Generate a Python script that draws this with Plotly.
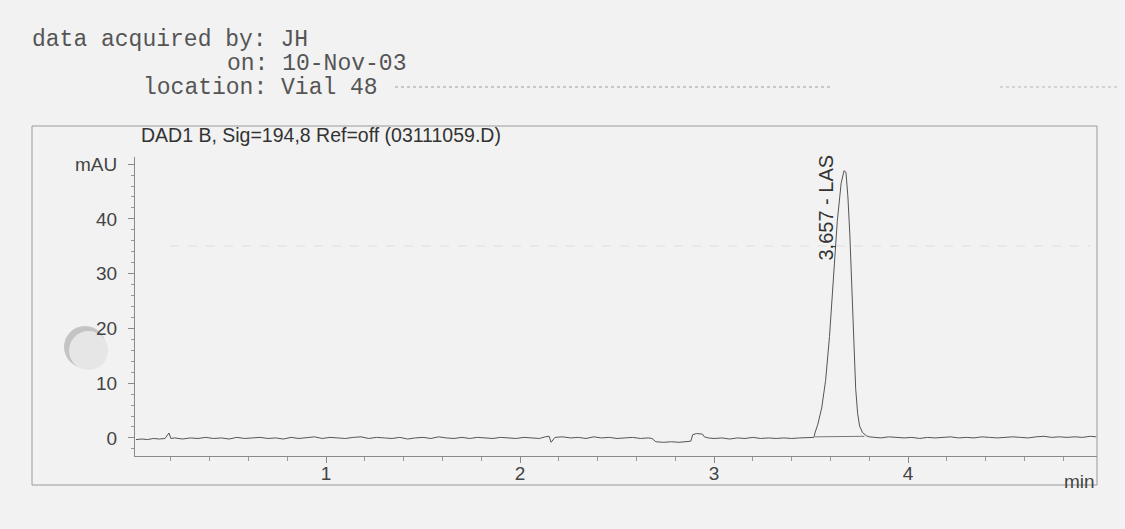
import plotly.graph_objects as go

# ---------------- data ----------------
base_time = [0.02, 0.05, 0.08, 0.11, 0.14, 0.17, 0.19, 0.20, 0.22, 0.26, 0.30, 0.34, 0.38, 0.42,
             0.46, 0.50, 0.54, 0.58, 0.62, 0.66, 0.70, 0.74, 0.78, 0.82, 0.86, 0.90, 0.94, 0.98,
             1.02, 1.06, 1.10, 1.14, 1.18, 1.22, 1.26, 1.30, 1.34, 1.38, 1.42, 1.46, 1.50, 1.54,
             1.58, 1.62, 1.66, 1.70, 1.74, 1.78, 1.82, 1.86, 1.90, 1.94, 1.98, 2.02, 2.06, 2.10,
             2.13, 2.15, 2.16, 2.18, 2.22, 2.26, 2.30, 2.34, 2.38, 2.42, 2.46, 2.50, 2.54, 2.58,
             2.62, 2.66, 2.68, 2.70, 2.74, 2.78, 2.82, 2.86, 2.88, 2.89, 2.91, 2.94, 2.95, 2.97,
             3.00, 3.04, 3.08, 3.12, 3.16, 3.20, 3.24, 3.28, 3.32, 3.36, 3.40, 3.44, 3.48]
base_mau = [-0.3, -0.2, -0.3, -0.1, -0.2, -0.1, 0.9, -0.1, 0.0, -0.2, 0.0, -0.1, 0.1, -0.1,
            0.0, -0.2, 0.1, -0.1, 0.0, 0.1, -0.1, 0.0, -0.2, 0.1, -0.1, 0.0, 0.2, -0.1,
            0.1, 0.0, -0.1, 0.1, 0.2, -0.1, 0.1, 0.0, -0.1, 0.1, -0.2, 0.0, 0.1, -0.1,
            0.2, 0.0, -0.1, 0.1, -0.1, 0.1, 0.0, -0.1, 0.1, 0.0, -0.1, 0.1, 0.0, -0.1,
            0.2, 0.3, -0.8, 0.1, 0.2, 0.0, 0.1, -0.1, 0.2, 0.0, 0.1, -0.1, 0.0, 0.1,
            -0.1, 0.0, -0.1, -0.7, -0.8, -0.7, -0.8, -0.7, -0.6, 0.6, 0.8, 0.7, 0.2, 0.0,
            -0.1, 0.0, -0.2, 0.0, -0.1, 0.1, -0.1, 0.0, -0.1, 0.0, -0.1, 0.0, 0.0]

peak_time = [3.515, 3.52, 3.535, 3.555, 3.575, 3.595, 3.615, 3.635, 3.655, 3.67, 3.68, 3.69,
             3.70, 3.71, 3.72, 3.73, 3.74, 3.75, 3.765, 3.785, 3.80]
peak_mau = [0.1, 0.9, 2.5, 5.5, 10.5, 18.5, 29.0, 39.5, 46.5, 48.8, 48.5, 44.0,
            37.0, 27.0, 17.0, 9.0, 4.5, 2.2, 1.0, 0.4, 0.2]

tail_time = [3.83, 3.86, 3.90, 3.94, 3.98, 4.02, 4.06, 4.10, 4.14, 4.18, 4.22, 4.26, 4.30,
             4.34, 4.38, 4.42, 4.46, 4.50, 4.54, 4.58, 4.62, 4.66, 4.70, 4.74, 4.78, 4.82,
             4.86, 4.90, 4.94, 4.97]
tail_mau = [0.1, 0.0, 0.2, 0.1, 0.0, 0.1, -0.1, 0.1, 0.0, 0.1, 0.2, 0.0, 0.1,
            0.0, 0.2, 0.1, 0.0, 0.1, 0.2, 0.1, 0.0, 0.2, 0.3, 0.1, 0.2, 0.1,
            0.2, 0.1, 0.3, 0.2]

integ_time = [3.52, 3.775]
integ_mau = [0.2, 0.3]

peak_label = "3,657 - LAS"
peak_rt = 3.657
y_tickvals = [0, 10, 20, 30, 40, 50]
y_ticktext = ["0", "10", "20", "30", "40", "mAU"]
x_tickvals = [1, 2, 3, 4]
x_ticktext = ["1", "2", "3", "4"]

# ---------------- layout geometry ----------------
W, H = 1125, 529
L, R, T, B = 135, 28, 157, 73
PW, PH = W - L - R, H - T - B


def px(x):
    return (x - L) / PW


def py(y):
    return (H - B - y) / PH


BG = "#f2f2f2"
INK = "#555555"
SANS = "Liberation Sans, Arial, sans-serif"
MONO = "Liberation Mono, Courier New, monospace"

time_all = base_time + peak_time + tail_time
mau_all = base_mau + peak_mau + tail_mau

fig = go.Figure()
fig.add_trace(go.Scatter(x=time_all, y=mau_all, mode="lines",
                         line=dict(color=INK, width=1), hoverinfo="skip", showlegend=False))
fig.add_trace(go.Scatter(x=integ_time, y=integ_mau, mode="lines",
                         line=dict(color="#777777", width=1), hoverinfo="skip", showlegend=False))

shapes = [
    # outer frame
    dict(type="rect", xref="paper", yref="paper", x0=px(32), x1=px(1097), y0=py(485), y1=py(126),
         line=dict(color="#9a9a9a", width=1), layer="below"),
    # hole punch artefact
    dict(type="circle", xref="paper", yref="paper", x0=px(64), x1=px(106), y0=py(368), y1=py(326),
         fillcolor="#c4c4c4", line=dict(width=0), layer="below"),
    dict(type="circle", xref="paper", yref="paper", x0=px(69), x1=px(108), y0=py(370), y1=py(331),
         fillcolor="#e6e6e6", line=dict(width=0), layer="below"),
    # scan artefacts
    dict(type="line", xref="paper", yref="paper", x0=px(395), x1=px(830), y0=py(87), y1=py(87),
         line=dict(color="#9c9c9c", width=1, dash="dot")),
    dict(type="line", xref="paper", yref="paper", x0=px(1000), x1=px(1120), y0=py(87), y1=py(87),
         line=dict(color="#b5b5b5", width=1, dash="dot")),
    dict(type="line", xref="paper", yref="paper", x0=px(170), x1=px(1090), y0=py(246), y1=py(246),
         line=dict(color="#dedede", width=1, dash="dash"), layer="below"),
]

annotations = [
    dict(text="data acquired by: JH", xref="paper", yref="paper", x=px(30), y=py(40),
         xanchor="left", yanchor="middle", showarrow=False, font=dict(family=MONO, size=23, color=INK)),
    dict(text="on: 10-Nov-03", xref="paper", yref="paper", x=px(30 + 14 * 13.9), y=py(64),
         xanchor="left", yanchor="middle", showarrow=False, font=dict(family=MONO, size=23, color=INK)),
    dict(text="location: Vial 48", xref="paper", yref="paper", x=px(30 + 8 * 13.9), y=py(88),
         xanchor="left", yanchor="middle", showarrow=False, font=dict(family=MONO, size=23, color=INK)),
    dict(text="DAD1 B, Sig=194,8 Ref=off (03111059.D)", xref="paper", yref="paper", x=px(139), y=py(135),
         xanchor="left", yanchor="middle", showarrow=False, font=dict(family=SANS, size=19.5, color="#333333")),
    dict(text=peak_label, xref="x", yref="paper", x=peak_rt, y=py(208), xshift=-16, textangle=-90,
         xanchor="center", yanchor="middle", showarrow=False, font=dict(family=SANS, size=20, color="#333333")),
    dict(text="min", xref="paper", yref="paper", x=1.0, y=py(481),
         xanchor="right", yanchor="middle", showarrow=False, font=dict(family=SANS, size=19, color="#444444")),
]

fig.update_layout(
    width=W, height=H, autosize=False,
    margin=dict(l=L, r=R, t=T, b=B, pad=0),
    paper_bgcolor=BG, plot_bgcolor=BG,
    shapes=shapes, annotations=annotations, showlegend=False,
    xaxis=dict(range=[0.015, 4.974], showgrid=False, zeroline=False,
               showline=True, linecolor="#8a8a8a", linewidth=1,
               tickmode="array", tickvals=x_tickvals, ticktext=x_ticktext,
               ticks="outside", ticklen=6, tickcolor="#8a8a8a", tickwidth=1,
               minor=dict(ticks="outside", ticklen=4, tickcolor="#9a9a9a", dtick=0.2, tick0=0, showgrid=False),
               tickfont=dict(family=SANS, size=19, color="#444444"), ticklabelstandoff=-6),
    yaxis=dict(range=[-3.3, 51.3], showgrid=False, zeroline=False,
               showline=True, linecolor="#8a8a8a", linewidth=1,
               tickmode="array", tickvals=y_tickvals, ticktext=y_ticktext,
               ticks="outside", ticklen=6, tickcolor="#8a8a8a", tickwidth=1,
               minor=dict(ticks="outside", ticklen=3, tickcolor="#9a9a9a", dtick=2, tick0=0, showgrid=False),
               tickfont=dict(family=SANS, size=19, color="#444444"), ticklabelstandoff=7),
)

fig.write_html("out.html")
